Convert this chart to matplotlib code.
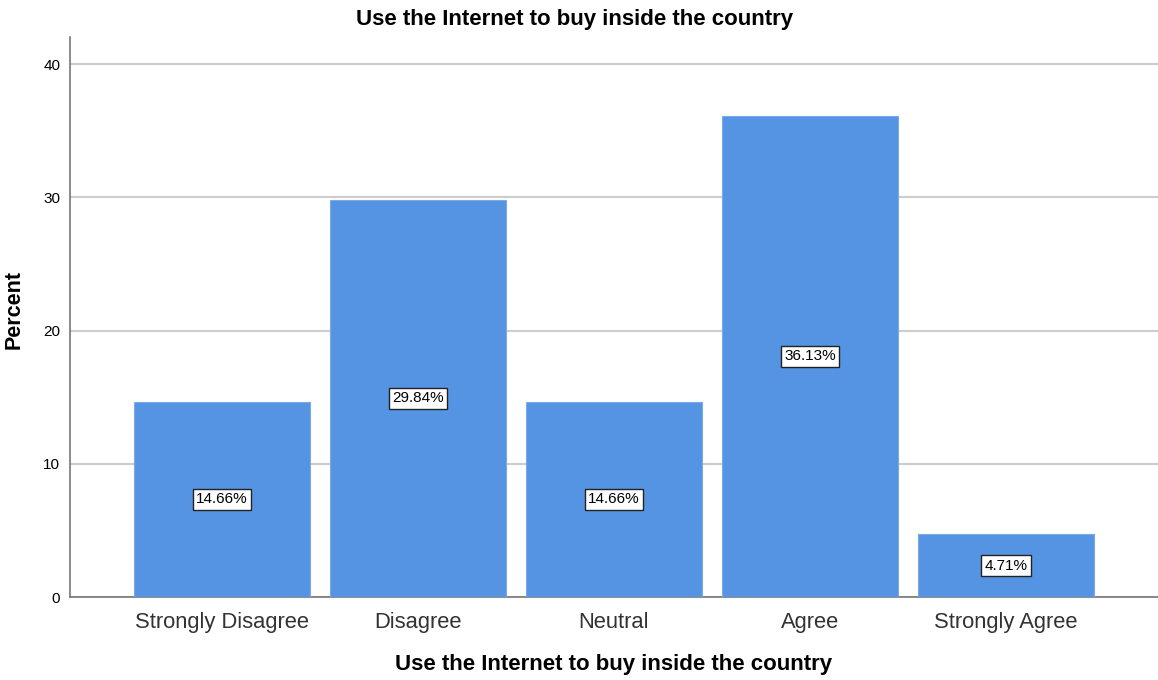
import numpy as np
import matplotlib.pyplot as plt

plt.rcParams['font.family'] = ['Liberation Sans', 'DejaVu Sans']

# data
categories = ['Strongly Disagree', 'Disagree', 'Neutral', 'Agree', 'Strongly Agree']
percent = [14.66, 29.84, 14.66, 36.13, 4.71]
title_txt = 'Use the Internet to buy inside the country'

fig = plt.figure(figsize=(11.58, 6.8), dpi=100)
ax = fig.add_axes([0.0604, 0.122, 0.9396, 0.8236])

x = np.arange(len(categories))
ax.bar(x, percent, width=0.898, color='#5594e3', edgecolor='#7aaaea', linewidth=0.8, zorder=3)

# percent labels in boxes
for xi, v in zip(x, percent):
    ax.text(xi, v / 2, '%.2f%%' % v, ha='center', va='center', fontsize=11, color='black', zorder=4,
            bbox=dict(boxstyle='square,pad=0.22', facecolor='white', edgecolor='#222222', linewidth=1))

ax.set_xlim(-0.776, 4.776)
ax.set_ylim(0, 42.05)
ax.set_yticks([0, 10, 20, 30, 40])
ax.set_xticks(x)
ax.set_xticklabels(categories, fontsize=15.8, color='#333333')
ax.tick_params(axis='y', labelsize=11, length=0, pad=7)
ax.tick_params(axis='x', length=0, pad=11)

ax.yaxis.grid(True, color='#cccccc', linewidth=1.5, zorder=0)
ax.set_axisbelow(True)
for s in ['top', 'right']:
    ax.spines[s].set_visible(False)
for s in ['left', 'bottom']:
    ax.spines[s].set_color('#777777')
    ax.spines[s].set_linewidth(1.2)

fig.text(0.4965, 0.971, title_txt, fontsize=16, fontweight='bold', ha='center', va='center')
ax.set_xlabel(title_txt, fontsize=16, fontweight='bold', labelpad=15)
ax.set_ylabel('Percent', fontsize=15.5, fontweight='bold')
ax.yaxis.set_label_coords(-0.042, 0.513)

fig.savefig('out.png', dpi=100)
